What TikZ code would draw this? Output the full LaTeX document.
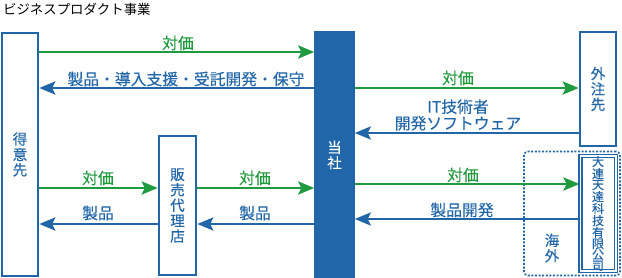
\documentclass[tikz,border=0pt]{standalone}
\usepackage{fontspec}
\setmainfont{Noto Sans CJK JP}
\newfontfamily\lblfont{Noto Sans CJK JP}[FakeBold=0.2]
\usetikzlibrary{arrows.meta}
\definecolor{cblue}{RGB}{33,102,168}
\definecolor{cgreen}{RGB}{32,154,62}
\tikzset{
  box/.style={draw=cblue, line width=2.5pt, inner sep=0pt, fill=white},
  vtext/.style={align=center, font=\lblfont\fontsize{14.5}{15.4}\selectfont, text=cblue},
  garrow/.style={draw=cgreen, line width=2.8pt, -{Stealth[length=16pt,width=13pt,inset=3pt]}},
  barrow/.style={draw=cblue, line width=2.8pt, -{Stealth[length=16pt,width=13pt,inset=3pt]}},
  glabel/.style={text=cgreen, font=\lblfont\fontsize{15.8}{16}\selectfont, inner sep=0pt},
  blabel/.style={text=cblue, font=\lblfont\fontsize{15.8}{16}\selectfont, inner sep=0pt},
}
\begin{document}
\begin{tikzpicture}[x=1pt,y=-1pt]
\useasboundingbox (0,0) rectangle (622,277);
\node[anchor=west, inner sep=0pt, font=\fontsize{13.4}{14}\selectfont] (title) at (3,9) {ビジネスプロダクト事業};
% dotted overseas frame
\node[draw=cblue, line width=1.6pt, dash pattern=on 2pt off 1.6pt, rounded corners=4pt,
      minimum width=96pt, minimum height=124pt, inner sep=0pt] (abroad) at (572,213.5) {};
\node[vtext] (abroadtxt) at (552,248) {海\\外};
% boxes
\node[box, minimum width=36pt, minimum height=243pt, vtext] (cust) at (20,154.5) {得\\意\\先};
\node[box, fill=cblue, minimum width=38pt, minimum height=246pt, vtext, text=white] (tosha) at (334.5,155) {当\\社};
\node[box, minimum width=37pt, minimum height=139pt, vtext] (dealer) at (177.5,205.5) {販\\売\\代\\理\\店};
\node[box, minimum width=36pt, minimum height=114pt, vtext] (outs) at (598,89) {外\\注\\先};
\node[draw=cblue, line width=1.5pt, double=white, double distance=1.5pt, fill=white, inner sep=0pt,
      minimum width=35.5pt, minimum height=114.5pt, align=center, text=cblue,
      font=\lblfont\fontsize{12}{10.9}\selectfont] (dalian) at (598,213.5) {大\\連\\天\\達\\科\\技\\有\\限\\公\\司};
% arrows
\draw[garrow] (cust.east |- 0,52) -- (tosha.west |- 0,52);
\node[glabel] (l1) at (178,43) {対価};
\draw[barrow] (tosha.west |- 0,88) -- (cust.east |- 0,88);
\node[blabel] (l2) at (186,79) {製品・導入支援・受託開発・保守};
\draw[garrow] (tosha.east |- 0,88) -- (outs.west |- 0,88);
\node[glabel] (l3) at (458,78) {対価};
\draw[barrow] (outs.west |- 0,133) -- (tosha.east |- 0,133);
\node[blabel, align=center, font=\lblfont\fontsize{15.8}{16.5}\selectfont] (l4) at (458,115) {IT技術者\\開発ソフトウェア};
\draw[garrow] (cust.east |- 0,188) -- (dealer.west |- 0,188);
\node[glabel] (l5) at (98,178) {対価};
\draw[barrow] (dealer.west |- 0,224) -- (cust.east |- 0,224);
\node[blabel] (l6) at (98,213) {製品};
\draw[garrow] (dealer.east |- 0,188) -- (tosha.west |- 0,188);
\node[glabel] (l7) at (255,178) {対価};
\draw[barrow] (tosha.west |- 0,224) -- (dealer.east |- 0,224);
\node[blabel] (l8) at (255,213) {製品};
\draw[garrow] (tosha.east |- 0,184) -- (dalian.west |- 0,184);
\node[glabel] (l9) at (463,175) {対価};
\draw[barrow] (dalian.west |- 0,219) -- (tosha.east |- 0,219);
\node[blabel] (l10) at (462,210) {製品開発};
\end{tikzpicture}
\end{document}
